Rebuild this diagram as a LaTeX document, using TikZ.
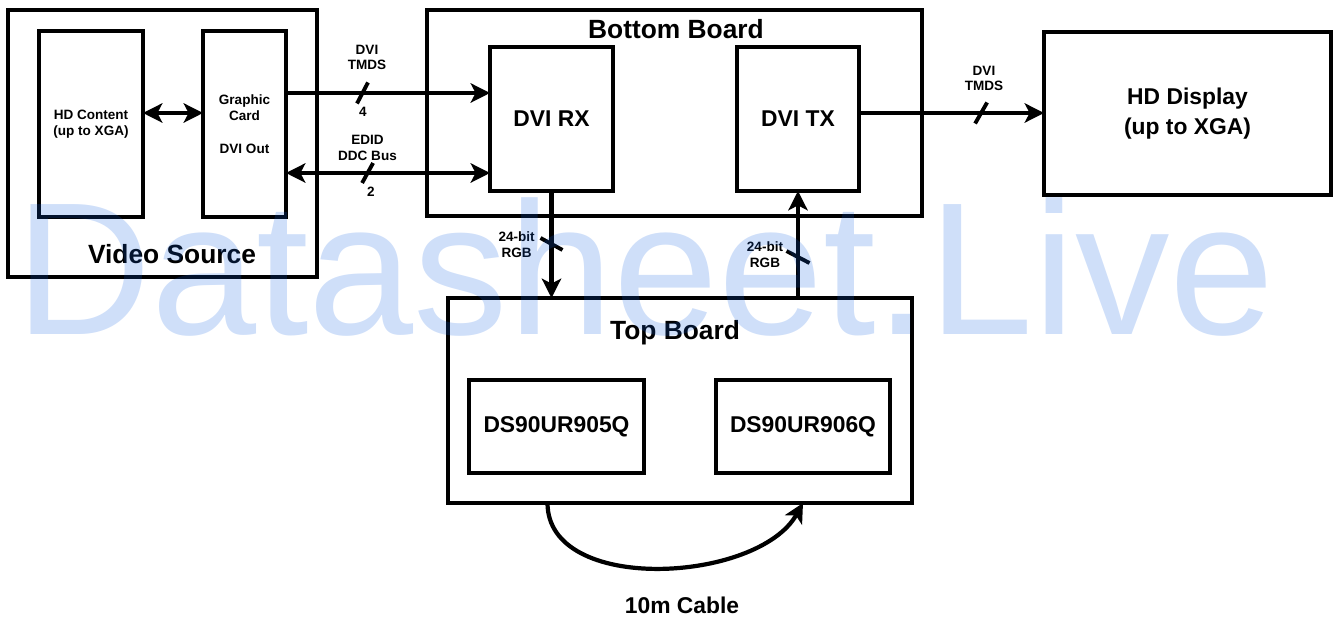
\documentclass[tikz,border=0pt]{standalone}
\usepackage{fontspec}
\setmainfont{Liberation Sans}
\usetikzlibrary{arrows.meta}
\definecolor{wmblue}{RGB}{15,95,225}

\begin{document}
\begin{tikzpicture}[x=0.02cm, y=-0.02cm,
  >={Stealth[length=11pt,width=11pt,inset=2.8pt]},
  frame/.style={draw, line width=2.3pt, outer sep=0pt, inner sep=0pt, align=center},
  title/.style={inner sep=0pt, font=\fontsize{15}{18}\selectfont\bfseries},
  mid/.style={inner sep=0pt, align=center, font=\fontsize{13}{17}\selectfont\bfseries},
  tag/.style={inner sep=0pt, align=center, font=\fontsize{7.7}{9}\selectfont\bfseries},
  link/.style={line width=2.4pt},
  bus/.style={line width=2.2pt},
  wm/.style={anchor=base, inner sep=0pt, text=wmblue, text opacity=0.2, font=\fontsize{107.5}{107.5}\selectfont}]

\useasboundingbox (0,0) rectangle (1333,617);

\node[frame, minimum width=6.18cm, minimum height=5.34cm] (vsrc) at (162.5,143.5) {};
\node[title] (vsrcT) at (172,254) {Video Source};
\node[frame, tag, minimum width=2.08cm, minimum height=3.72cm] (hdc) at (91,124) {HD Content\\(up to XGA)};
\node[frame, tag, minimum width=1.66cm, minimum height=3.72cm] (gfx) at (244.5,124) {Graphic\\Card\\[9.7pt]DVI Out};

\node[frame, minimum width=9.9cm, minimum height=4.12cm] (bb) at (674.5,113) {};
\node[title] (bbT) at (676,29) {Bottom Board};
\node[frame, mid, minimum width=2.46cm, minimum height=2.88cm] (rx) at (551.5,119) {DVI RX};
\node[frame, mid, minimum width=2.44cm, minimum height=2.88cm] (tx) at (798,119) {DVI TX};

\node[frame, mid, minimum width=5.74cm, minimum height=3.26cm] (disp) at (1187.5,113.5) {HD Display\\(up to XGA)};

\node[frame, minimum width=9.28cm, minimum height=4.1cm] (tb) at (680,400.5) {};
\node[title] (tbT) at (675,333) {Top Board};
\node[frame, mid, minimum width=3.5cm, minimum height=1.86cm] (ser) at (556.5,426.5) {DS90UR905Q};
\node[frame, mid, minimum width=3.48cm, minimum height=1.86cm] (des) at (803,426.5) {DS90UR906Q};
\node[mid] (cbl) at (682,605) {10m Cable};

\draw[link, <->] (hdc.east |- 0,113) -- (gfx.west |- 0,113);
\draw[link, ->] (gfx.east |- 0,93) -- coordinate[pos=0.375] (s1) (rx.west |- 0,93);
\draw[link, <->] (gfx.east |- 0,173) -- coordinate[pos=0.4] (s2) (rx.west |- 0,173);
\draw[link, ->] (rx.south) -- coordinate[pos=0.495] (s3) (rx.south |- tb.north);
\draw[link, ->] (tx.south |- tb.north) -- coordinate[pos=0.383] (s4) (tx.south);
\draw[link, ->] (tx.east |- 0,113) -- coordinate[pos=0.66] (s5) (disp.west |- 0,113);
\draw[link, ->] (ser.south |- tb.south) ++(-9,0) .. controls +(0,92) and +(-45,80) .. (des.south |- tb.south);

\foreach \s/\dx/\dy in {s1/5.5/10.5, s2/5.5/10, s5/6/10.5, s3/11/-6, s4/11.5/-6}
  \draw[bus] (\s) ++(-\dx,\dy) -- ++(2*\dx,-2*\dy);

\node[tag] (l1) at (367,57.5) {DVI\\TMDS};
\node[tag] (n1) at (363,112) {4};
\node[tag] (l2) at (367.5,148) {EDID\\DDC Bus};
\node[tag] (n2) at (371,192) {2};
\node[tag] (l3) at (516.7,244.5) {24-bit\\RGB};
\node[tag] (l4) at (765,254.5) {24-bit\\RGB};
\node[tag] (l5) at (984,78.5) {DVI\\TMDS};

\node[wm] (mark) at (645,335) {Datasheet.Live};
\end{tikzpicture}
\end{document}
